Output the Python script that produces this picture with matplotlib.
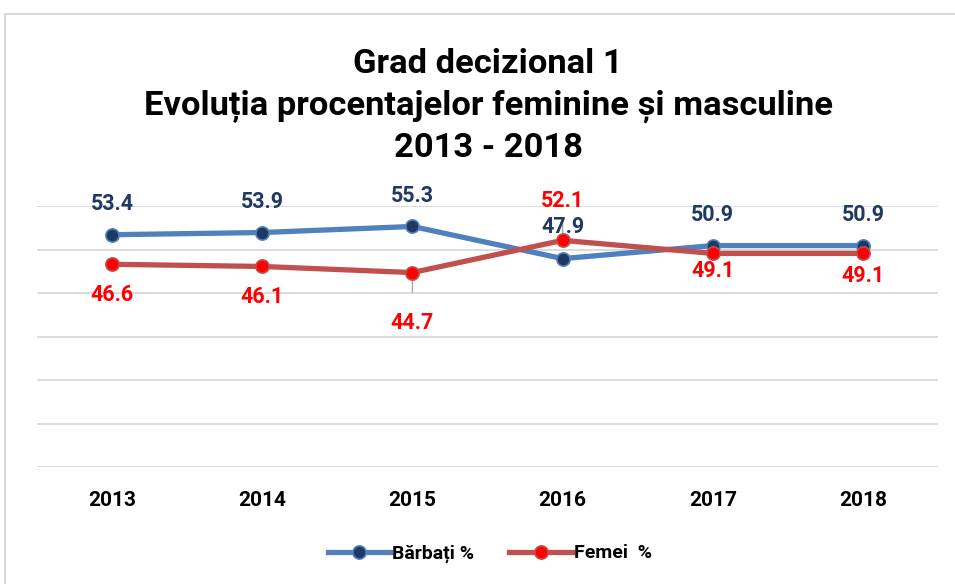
import matplotlib.pyplot as plt
from matplotlib.lines import Line2D

# data
years = ['2013', '2014', '2015', '2016', '2017', '2018']
barbati = [53.4, 53.9, 55.3, 47.9, 50.9, 50.9]
femei = [46.6, 46.1, 44.7, 52.1, 49.1, 49.1]

# label offsets (points) for each data label
off_b = [22, 22, 22, 23, 22, 22]
off_f = [-22, -22, -36, 28, -13, -16]

plt.rcParams['font.family'] = ['Roboto', 'DejaVu Sans']
plt.rcParams['font.weight'] = 'bold'

fig = plt.figure(figsize=(9.55, 5.84), dpi=100)
ax = fig.add_axes([37/955, 1-467/584, (938-37)/955, (467-206)/584])

x = range(len(years))
ax.plot(x, barbati, color='#4F81BD', lw=3.8, marker='o', ms=9.5,
        mfc='#1F3864', mec='#4F81BD', mew=1.2, label='Bărbați %', zorder=3)
ax.plot(x, femei, color='#C0504D', lw=3.8, marker='o', ms=9.5,
        mfc='#FF0000', mec='#C0504D', mew=1.2, label='Femei  %', zorder=3)

# data labels
for i, v in enumerate(barbati):
    ax.annotate(f'{v:.1f}', (i, v), xytext=(0, off_b[i]), textcoords='offset points',
                ha='center', va='center', fontsize=15.5, fontweight='bold', color='#1F3864')
for i, v in enumerate(femei):
    ax.annotate(f'{v:.1f}', (i, v), xytext=(0, off_f[i]), textcoords='offset points',
                ha='center', va='center', fontsize=15.5, fontweight='bold', color='#FF0000')

# leader lines
ax.annotate('', (2, femei[2]), xytext=(2, femei[2] - 4.5),
            arrowprops=dict(arrowstyle='-', color='#A6A6A6', lw=1, shrinkA=0, shrinkB=0), zorder=2)
ax.annotate('', (3, femei[3]), xytext=(3, femei[3] + 5),
            arrowprops=dict(arrowstyle='-', color='#A6A6A6', lw=1, shrinkA=0, shrinkB=0), zorder=2)

ax.set_xlim(-0.5, 5.5)
ax.set_ylim(0, 60)
ax.set_yticks(range(0, 61, 10))
ax.set_yticklabels([])
ax.grid(axis='y', color='#D9D9D9', lw=1.3)
ax.set_axisbelow(True)
for s in ax.spines.values():
    s.set_visible(False)
ax.tick_params(axis='both', length=0)
ax.set_xticks(list(x))
ax.set_xticklabels(years, fontsize=15, fontweight='bold')
ax.tick_params(axis='x', pad=17)

fig.text(0.511, 0.818, 'Grad decizional 1\nEvoluția procentajelor feminine și masculine\n2013 - 2018',
         ha='center', va='center', fontsize=24.8, fontweight='bold', linespacing=1.37)

fig.legend(loc='center', bbox_to_anchor=(0.513, 0.052), ncol=2, frameon=False,
           fontsize=14, handlelength=3.2, columnspacing=1.8, handletextpad=0.1)

# outer chart border
fig.add_artist(Line2D([5/955, 1], [1-14/584, 1-14/584], color='#D9D9D9', lw=1.5))
fig.add_artist(Line2D([5/955, 5/955], [0, 1-14/584], color='#D9D9D9', lw=1.5))

fig.savefig('out.png', dpi=100, facecolor='white')
